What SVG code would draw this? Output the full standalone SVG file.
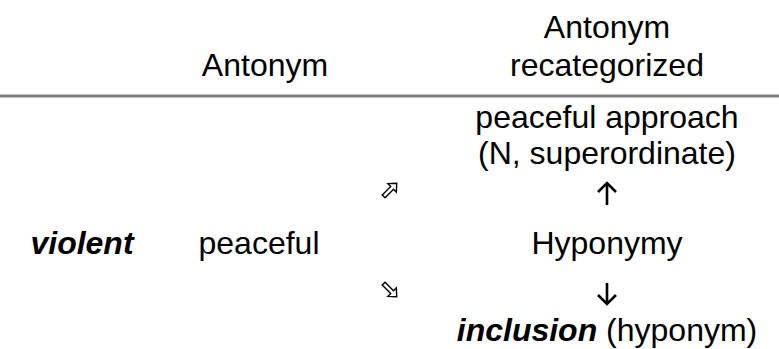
<svg xmlns="http://www.w3.org/2000/svg" width="779" height="349" viewBox="0 0 779 349">
<style>
text{font-family:"Liberation Sans",Arial,sans-serif;font-size:32px;fill:#000;text-anchor:middle}
.bi{font-weight:bold;font-style:italic}
.arr{fill:none;stroke:#000;stroke-width:2.6;stroke-linecap:butt;stroke-linejoin:miter}
.white{fill:#fff;stroke:#000;stroke-width:1.4;stroke-linejoin:miter}
</style>
<rect width="779" height="349" fill="#fff"/>
<g id="header">
<text x="265" y="76">Antonym</text>
<text x="607" y="38">Antonym</text>
<text x="607" y="76">recategorized</text>
<line x1="0" y1="96" x2="779" y2="96" stroke="#808080" stroke-width="3"/>
</g>
<g id="superordinate">
<text x="607" y="128">peaceful approach</text>
<text x="607" y="164">(N, superordinate)</text>
</g>
<g id="violent"><text class="bi" x="82" y="254">violent</text></g>
<g id="peaceful"><text x="259" y="254">peaceful</text></g>
<g id="hyponymy"><text x="607" y="254">Hyponymy</text></g>
<g id="inclusion"><text x="607" y="341"><tspan class="bi">inclusion</tspan> (hyponym)</text></g>
<g id="connectors">
<polygon class="white" transform="translate(390,190) rotate(45)" points="0,-9.5 6,-3 2,-3 2,9 -2,9 -2,-3 -6,-3"/>
<polygon class="white" transform="translate(390,290) rotate(135)" points="0,-9.5 6,-3 2,-3 2,9 -2,9 -2,-3 -6,-3"/>
<path class="arr" d="M607,205 V183 M598,192 L607,183 L616,192"/>
<path class="arr" d="M607,283 V304 M598,295 L607,304 L616,295"/>
</g>
</svg>
